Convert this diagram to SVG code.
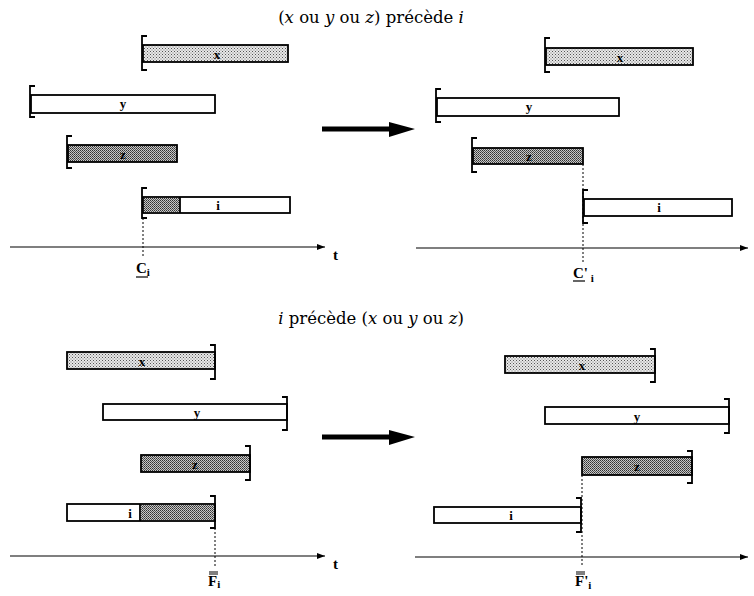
<svg xmlns="http://www.w3.org/2000/svg" width="754" height="596" viewBox="0 0 754 596">
<defs>
<pattern id="light" width="3" height="3" patternUnits="userSpaceOnUse">
<rect width="3" height="3" fill="#e8e8e8"/>
<rect x="0" y="0" width="1" height="1" fill="#555"/>
<rect x="1.5" y="1.5" width="1" height="1" fill="#777"/>
</pattern>
<pattern id="dark" width="2" height="2" patternUnits="userSpaceOnUse">
<rect width="2" height="2" fill="#c8c8c8"/>
<rect x="0" y="0" width="1" height="1" fill="#333"/>
<rect x="1" y="1" width="1" height="1" fill="#555"/>
</pattern>
<marker id="ah" markerWidth="8" markerHeight="6" refX="8" refY="3" orient="auto" markerUnits="userSpaceOnUse">
<path d="M0,0 L8,3 L0,6 Z" fill="#000"/>
</marker>
</defs>
<style>
text{font-family:"Liberation Serif","DejaVu Serif",serif;fill:#000}
.ttl{font-family:"DejaVu Serif","Liberation Serif",serif;font-size:16.5px}
.lbl{font-size:13px;font-weight:bold;text-anchor:middle}
.ax{font-size:15px;font-weight:bold}
.bar{stroke:#000;stroke-width:1.8}
.w{fill:#fff}
.l{fill:url(#light)}
.d{fill:url(#dark)}
.br{fill:none;stroke:#000;stroke-width:1.8}
.axis{stroke:#000;stroke-width:1.2;fill:none}
.dot{stroke:#000;stroke-width:1;stroke-dasharray:2,2;fill:none}
.big{stroke:#000;stroke-width:5;fill:none}
</style>

<text class="ttl" x="371" y="23" text-anchor="middle">(<tspan font-style="italic">x</tspan> ou <tspan font-style="italic">y</tspan> ou <tspan font-style="italic">z</tspan>) précède <tspan font-style="italic">i</tspan></text>
<text class="ttl" x="371" y="324" text-anchor="middle"><tspan font-style="italic">i</tspan> précède (<tspan font-style="italic">x</tspan> ou <tspan font-style="italic">y</tspan> ou <tspan font-style="italic">z</tspan>)</text>

<!-- Top-left -->
<g id="tl-x"><rect class="bar l" x="143" y="45" width="145" height="17"/><path class="br" d="M147,36 H142 V70 H147"/><text class="lbl" x="217" y="59">x</text></g>
<g id="tl-y"><rect class="bar w" x="31" y="95" width="184" height="18"/><path class="br" d="M35,86 H30 V117 H35"/><text class="lbl" x="123" y="108">y</text></g>
<g id="tl-z"><rect class="bar d" x="68" y="145" width="109" height="17"/><path class="br" d="M72,136 H67 V168 H72"/><text class="lbl" x="123" y="159">z</text></g>
<g id="tl-i"><rect class="bar w" x="143" y="197" width="147" height="16"/><rect class="d" x="144" y="198" width="36" height="14"/><line class="bar" x1="180" y1="197" x2="180" y2="213"/><path class="br" d="M147,188 H142 V218 H147"/><text class="lbl" x="218" y="210">i</text></g>

<!-- Top-right -->
<g id="tr-x"><rect class="bar l" x="546" y="48" width="147" height="17"/><path class="br" d="M550,38 H545 V72 H550"/><text class="lbl" x="620" y="62">x</text></g>
<g id="tr-y"><rect class="bar w" x="437" y="98" width="182" height="18"/><path class="br" d="M441,89 H436 V122 H441"/><text class="lbl" x="529" y="111">y</text></g>
<g id="tr-z"><rect class="bar d" x="473" y="148" width="110" height="16"/><path class="br" d="M477,138 H472 V172 H477"/><text class="lbl" x="529" y="161">z</text></g>
<g id="tr-i"><rect class="bar w" x="584" y="199" width="148" height="17"/><path class="br" d="M588,190 H583 V223 H588"/><text class="lbl" x="659" y="212">i</text></g>

<!-- Bottom-left -->
<g id="bl-x"><rect class="bar l" x="67" y="352" width="148" height="17"/><path class="br" d="M210,345 H215 V379 H210"/><text class="lbl" x="142" y="366">x</text></g>
<g id="bl-y"><rect class="bar w" x="103" y="404" width="184" height="16"/><path class="br" d="M282,397 H287 V430 H282"/><text class="lbl" x="197" y="417">y</text></g>
<g id="bl-z"><rect class="bar d" x="141" y="455" width="109" height="17"/><path class="br" d="M245,446 H250 V480 H245"/><text class="lbl" x="195" y="469">z</text></g>
<g id="bl-i"><rect class="bar w" x="67" y="504" width="148" height="17"/><rect class="d" x="141" y="505" width="73" height="15"/><line class="bar" x1="140" y1="504" x2="140" y2="521"/><path class="br" d="M210,496 H215 V528 H210"/><text class="lbl" x="130" y="518">i</text></g>

<!-- Bottom-right -->
<g id="br-x"><rect class="bar l" x="505" y="356" width="150" height="17"/><path class="br" d="M650,349 H655 V382 H650"/><text class="lbl" x="582" y="370">x</text></g>
<g id="br-y"><rect class="bar w" x="545" y="407" width="184" height="17"/><path class="br" d="M724,399 H729 V433 H724"/><text class="lbl" x="637" y="421">y</text></g>
<g id="br-z"><rect class="bar d" x="582" y="457" width="110" height="18"/><path class="br" d="M687,451 H692 V483 H687"/><text class="lbl" x="637" y="471">z</text></g>
<g id="br-i"><rect class="bar w" x="434" y="507" width="147" height="16"/><path class="br" d="M576,498 H581 V532 H576"/><text class="lbl" x="511" y="520">i</text></g>

<!-- connectors -->
<g id="connectors">
<line class="axis" x1="10" y1="247" x2="325" y2="247" marker-end="url(#ah)"/>
<line class="axis" x1="416" y1="248" x2="748" y2="248" marker-end="url(#ah)"/>
<line class="axis" x1="10" y1="556" x2="325" y2="556" marker-end="url(#ah)"/>
<line class="axis" x1="415" y1="557" x2="748" y2="557" marker-end="url(#ah)"/>
<line class="dot" x1="143" y1="218" x2="143" y2="256"/>
<line class="dot" x1="583" y1="164" x2="583" y2="262"/>
<line class="dot" x1="215" y1="528" x2="215" y2="566"/>
<line class="dot" x1="582" y1="475" x2="582" y2="566"/>
<line class="big" x1="322" y1="129" x2="392" y2="129"/>
<path d="M389,122 L415,129 L389,137 Z" fill="#000"/>
<line class="big" x1="322" y1="437" x2="392" y2="437"/>
<path d="M389,430 L415,437 L389,445 Z" fill="#000"/>
</g>

<!-- axis labels -->
<text class="ax" x="333" y="260">t</text>
<text class="ax" x="333" y="569">t</text>
<text class="ax" x="136" y="273">C<tspan font-size="11" dy="3">i</tspan></text>
<line x1="136" y1="277" x2="148" y2="277" stroke="#000" stroke-width="1.2"/>
<text class="ax" x="573" y="278">C'<tspan font-size="11" dy="4"> i</tspan></text>
<line x1="573" y1="281" x2="585" y2="281" stroke="#000" stroke-width="1.2"/>
<text class="ax" x="208" y="586">F<tspan font-size="11" dy="2">i</tspan></text>
<line x1="209" y1="572" x2="218" y2="572" stroke="#000" stroke-width="1"/>
<line x1="209" y1="574" x2="218" y2="574" stroke="#000" stroke-width="1"/>
<text class="ax" x="575" y="586">F'<tspan font-size="11" dy="3">i</tspan></text>
<line x1="576" y1="572" x2="585" y2="572" stroke="#000" stroke-width="1"/>
<line x1="576" y1="574" x2="585" y2="574" stroke="#000" stroke-width="1"/>
</svg>
